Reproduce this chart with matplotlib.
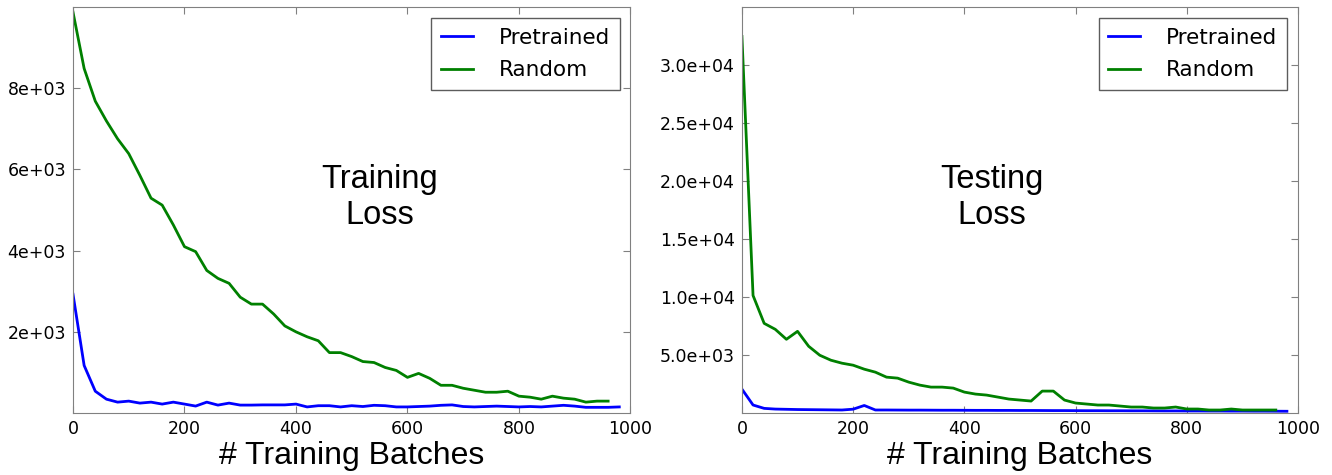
import numpy as np
import matplotlib
matplotlib.use("Agg")
import matplotlib.pyplot as plt
from matplotlib.ticker import FormatStrFormatter

# batches
batches_random = list(range(0, 980, 20))      # 0..960
batches_pretrained = list(range(0, 1000, 20))  # 0..980

train_random = [9878, 8488, 7683, 7195, 6756, 6390, 5854, 5293, 5122, 4634,
                4098, 3976, 3512, 3317, 3195, 2854, 2683, 2683, 2439, 2146,
                2000, 1878, 1780, 1488, 1488, 1390, 1268, 1244, 1122, 1049,
                878, 976, 854, 683, 683, 610, 561, 512, 512, 537,
                415, 390, 341, 415, 366, 341, 268, 293, 293]
train_pretrained = [2927, 1171, 537, 341, 268, 293, 244, 268, 220, 268,
                    220, 171, 268, 195, 244, 195, 195, 200, 200, 200,
                    220, 150, 180, 180, 150, 180, 160, 190, 180, 150,
                    150, 160, 170, 190, 200, 160, 150, 160, 170, 160,
                    150, 160, 150, 170, 190, 170, 140, 140, 140, 150]

test_random = [32470, 10136, 7731, 7216, 6357, 7044, 5755, 4982, 4553, 4295,
               4123, 3780, 3522, 3093, 3007, 2663, 2405, 2233, 2233, 2148,
               1804, 1632, 1546, 1375, 1203, 1117, 1031, 1890, 1890, 1117,
               859, 773, 687, 687, 601, 515, 515, 430, 430, 515,
               344, 344, 258, 258, 344, 258, 258, 258, 258]
test_pretrained = [2062, 690, 400, 340, 320, 300, 290, 280, 270, 260,
                   330, 650, 260, 260, 255, 250, 250, 245, 240, 240,
                   235, 230, 230, 225, 225, 220, 220, 215, 210, 210,
                   205, 200, 200, 195, 195, 190, 190, 185, 180, 180,
                   175, 175, 170, 170, 165, 165, 160, 160, 155, 150]

plt.rcParams['font.family'] = 'DejaVu Sans'

fig = plt.figure(figsize=(13.32, 4.75), dpi=100)
ax1 = fig.add_axes([0.0548, 0.1305, 0.4185, 0.8545])
ax2 = fig.add_axes([0.557, 0.1305, 0.4175, 0.8545])

panels = [
    (ax1, train_pretrained, train_random, 10000, [2000, 4000, 6000, 8000], '%.0e', "Training\nLoss", 0.55),
    (ax2, test_pretrained, test_random, 35000, [5000, 10000, 15000, 20000, 25000, 30000], '%.1e', "Testing\nLoss", 0.45),
]

for ax, pre, rnd, ytop, yt, fmt, title, tx in panels:
    ax.plot(batches_pretrained, pre, color=(0, 0, 1), lw=2, label='Pretrained')
    ax.plot(batches_random, rnd, color=(0, 0.5, 0), lw=2, label='Random')
    ax.set_xlim(0, 1000)
    ax.set_ylim(0, ytop)
    ax.set_xticks([0, 200, 400, 600, 800, 1000])
    ax.set_yticks(yt)
    ax.yaxis.set_major_formatter(FormatStrFormatter(fmt))
    ax.tick_params(direction='in', top=True, right=True, length=5,
                   color='#808080', labelsize=12.5, pad=5)
    for s in ax.spines.values():
        s.set_color('#808080')
    ax.set_xlabel('# Training Batches', fontname='Liberation Sans',
                  fontsize=23, labelpad=2)
    ax.text(tx, 0.53, title, transform=ax.transAxes, ha='center', va='center',
            fontname='Liberation Sans', fontsize=23.5, linespacing=1.2)
    leg = ax.legend(loc='upper right', fontsize=15.5, fancybox=False,
                    handlelength=1.5, handletextpad=1.2, labelspacing=0.6,
                    borderpad=0.45, borderaxespad=0.5)
    leg.get_frame().set_edgecolor('#333333')
    leg.get_frame().set_linewidth(1.0)

fig.savefig('out.png', dpi=100)
